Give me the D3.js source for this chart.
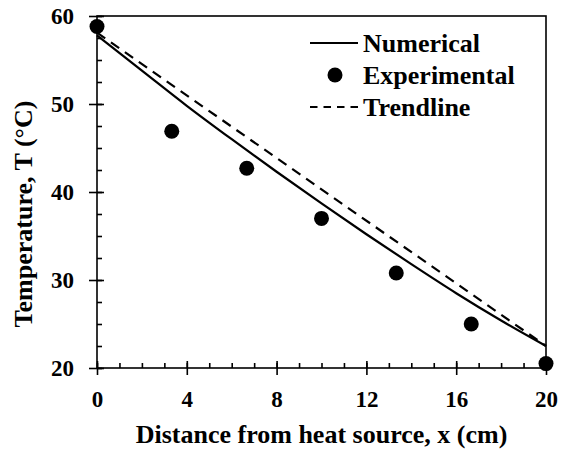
<!DOCTYPE html>
<html>
<head>
<meta charset="utf-8">
<script src="https://cdn.jsdelivr.net/npm/d3@7"></script>
<style>
  body { margin: 0; background: #fff; }
  svg text { font-family: "Liberation Serif", "Times New Roman", serif; font-weight: bold; fill: #000; }
</style>
</head>
<body>
<div id="chart"></div>
<script>
// experimental readings
var xExp = [0, 3.33, 6.67, 10, 13.33, 16.67, 20];
var tExp = [58.8, 46.9, 42.7, 37.0, 30.8, 25.0, 20.5];

// numerical solution
var xNum = [0, 2, 4, 6, 8, 10, 12, 14, 16, 18, 20];
var tNum = [57.8, 53.8, 49.8, 46.0, 42.3, 38.7, 35.2, 31.8, 28.5, 25.4, 22.5];

// trendline
var xTrend = [0, 20];
var tTrend = [58.1, 22.5];

var xMajor = [0, 4, 8, 12, 16, 20];
var xMinor = d3.range(0, 21, 1);
var yMajor = [20, 30, 40, 50, 60];
var yMinor = d3.range(20, 60.1, 2.5);

var width = 570, height = 452;
var margin = {top: 16, right: 24, bottom: 84, left: 97};
var w = 546 - margin.left, h = 368 - margin.top;
var serif = '"Liberation Serif", "Times New Roman", serif';

var svg = d3.select("#chart").append("svg")
    .attr("width", width)
    .attr("height", height);

var g = svg.append("g")
    .attr("transform", "translate(" + margin.left + "," + margin.top + ")");

var x = d3.scaleLinear().domain([0, 20]).range([0, w]);
var y = d3.scaleLinear().domain([20, 60]).range([h, 0]);

// frame
g.append("rect")
    .attr("width", w).attr("height", h)
    .attr("fill", "none").attr("stroke", "#000").attr("stroke-width", 1.6);

// minor ticks (inside)
g.append("g")
    .attr("transform", "translate(0," + h + ")")
    .call(d3.axisBottom(x).tickValues(xMinor).tickSize(-5).tickFormat(""))
    .call(function (s) { s.select(".domain").remove(); });
g.append("g")
    .call(d3.axisLeft(y).tickValues(yMinor).tickSize(-5).tickFormat(""))
    .call(function (s) { s.select(".domain").remove(); });

// major ticks crossing the axis
var xAxis = g.append("g")
    .attr("transform", "translate(0," + h + ")")
    .call(d3.axisBottom(x).tickValues(xMajor).tickSize(7).tickPadding(16));
xAxis.select(".domain").remove();
xAxis.selectAll(".tick line").attr("y1", -7);

var yAxis = g.append("g")
    .call(d3.axisLeft(y).tickValues(yMajor).tickSize(8).tickPadding(15));
yAxis.select(".domain").remove();
yAxis.selectAll(".tick line").attr("x1", 7);

g.selectAll(".tick line").attr("stroke", "#000").attr("stroke-width", 1.6);
xAxis.attr("font-family", serif).attr("font-weight", "bold");
yAxis.attr("font-family", serif).attr("font-weight", "bold");
g.selectAll(".tick text").style("font-size", "23px").style("font-family", serif).attr("fill", "#000");
xAxis.selectAll(".tick text").attr("dy", "0.71em");

// lines
var line = d3.line()
    .x(function (d) { return x(d[0]); })
    .y(function (d) { return y(d[1]); });

g.append("path")
    .datum(xTrend.map(function (v, i) { return [v, tTrend[i]]; }))
    .attr("d", line)
    .attr("fill", "none").attr("stroke", "#000")
    .attr("stroke-width", 2.2).attr("stroke-dasharray", "10,7");

g.append("path")
    .datum(xNum.map(function (v, i) { return [v, tNum[i]]; }))
    .attr("d", line.curve(d3.curveMonotoneX))
    .attr("fill", "none").attr("stroke", "#000").attr("stroke-width", 2.2);

// points
g.selectAll("circle.exp")
    .data(xExp.map(function (v, i) { return [v, tExp[i]]; }))
    .enter().append("circle")
    .attr("class", "exp")
    .attr("cx", function (d) { return x(d[0]); })
    .attr("cy", function (d) { return y(d[1]); })
    .attr("r", 7.5)
    .attr("fill", "#000");

// axis titles
svg.append("text")
    .attr("x", margin.left + w / 2)
    .attr("y", 443)
    .attr("text-anchor", "middle")
    .style("font-size", "26px")
    .text("Distance from heat source, x (cm)");

svg.append("text")
    .attr("transform", "translate(32,214) rotate(-90)")
    .attr("text-anchor", "middle")
    .style("font-size", "26px")
    .text("Temperature,  T (°C)");

// legend
var legend = svg.append("g");
var items = ["Numerical", "Experimental", "Trendline"];
items.forEach(function (name, i) {
    var cy = 43 + i * 32;
    if (i === 0) {
        legend.append("line").attr("x1", 310).attr("x2", 358).attr("y1", cy).attr("y2", cy)
            .attr("stroke", "#000").attr("stroke-width", 2.2);
    } else if (i === 1) {
        legend.append("circle").attr("cx", 335).attr("cy", cy).attr("r", 7.5).attr("fill", "#000");
    } else {
        legend.append("line").attr("x1", 310).attr("x2", 358).attr("y1", cy).attr("y2", cy)
            .attr("stroke", "#000").attr("stroke-width", 2.2).attr("stroke-dasharray", "7.5,6");
    }
    legend.append("text")
        .attr("x", 363).attr("y", cy + 8.5)
        .style("font-size", "26px")
        .text(name);
});
</script>
</body>
</html>
